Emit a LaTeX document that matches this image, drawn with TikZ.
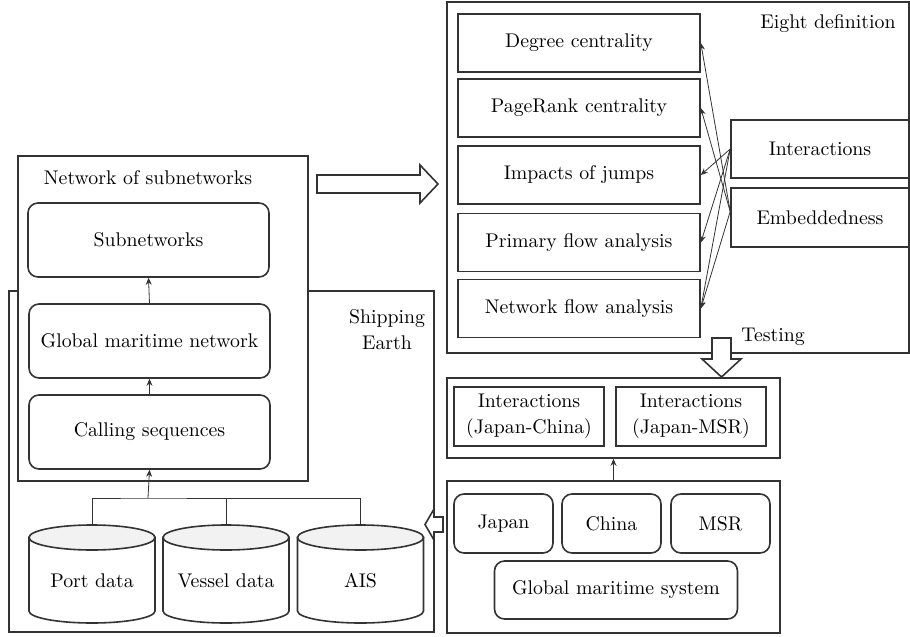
\documentclass[tikz,border=0pt]{standalone}
\usetikzlibrary{arrows.meta, positioning, shapes.geometric}
\tikzset{
    diagram/.style={x=0.5pt, y=-0.5pt, font=\fontsize{9.9}{13}\selectfont},
    frame/.style={draw=black!80, line width=0.8pt, inner sep=0pt},
    block/.style={frame, align=center},
    rblock/.style={block, rounded corners=5pt},
    link/.style={-{Stealth[length=3.5pt, width=3pt]}, line width=0.4pt, draw=black!80},
    % hollow block arrows between the stages
    blockarrow/.style={draw=black!80, line width=0.8pt, fill=white, line join=miter},
}
\begin{document}
\begin{tikzpicture}[diagram]
    \useasboundingbox (0,0) rectangle (910,637);

    % shipping earth with data sources
    \node[frame, minimum width=212.5pt, minimum height=170.5pt] (earth) at (221.5,461.5) {};
    \node[align=center] (earthlbl) at (387,330) {Shipping\\Earth};
    \node[frame, fill=white, minimum width=145pt, minimum height=162.5pt] (netbox) at (163,318.5) {};
    \node (netlbl) at (148,178) {Network of subnetworks};
    \node[rblock, minimum width=120.5pt, minimum height=37pt] (subnet) at (148.5,240) {Subnetworks};
    \node[rblock, minimum width=120.5pt, minimum height=37pt] (gmn) at (149.5,341) {Global maritime network};
    \node[rblock, minimum width=120.5pt, minimum height=37pt] (calling) at (149.5,432) {Calling sequences};

    \foreach \n/\c/\t in {port/92/Port data, vessel/226/Vessel data, ais/360.5/AIS} {
        \draw[draw=black!80, line width=0.8pt, fill=white]
            (\c-63,537.5) -- (\c-63,611) arc[start angle=180, end angle=0, x radius=63, y radius=12]
            -- (\c+63,537.5) -- cycle;
        \draw[draw=black!80, line width=0.8pt, fill=black!5] (\c,537.5) ellipse[x radius=63, y radius=12.5];
        \node[minimum width=63pt, minimum height=49pt, inner sep=0pt] (\n) at (\c,574) {};
        \node at (\c,581) {\t};
    }

    \coordinate (split) at (148,498);
    \draw[line width=0.4pt, draw=black!80] (port.north) |- (split) -| (vessel.north);
    \draw[line width=0.4pt, draw=black!80] (vessel.north |- split) -| (ais.north);
    \draw[link] (split) -- (calling.south);
    \draw[link] (calling.north -| gmn.south) -- (gmn.south);
    \draw[link] (gmn.north) -- (subnet.south);

    % eight definitions
    \node[frame, minimum width=231pt, minimum height=175.5pt] (defbox) at (678,177.5) {};
    \node (deflbl) at (828,24) {Eight definition};
    \node[block, minimum width=121pt, minimum height=29pt] (degree) at (579,43) {Degree centrality};
    \node[block, minimum width=121pt, minimum height=29pt] (pagerank) at (579,108) {PageRank centrality};
    \node[block, minimum width=121pt, minimum height=29pt] (jumps) at (579,175) {Impacts of jumps};
    \node[block, minimum width=121pt, minimum height=29pt] (primary) at (579,242.5) {Primary flow analysis};
    \node[block, minimum width=121pt, minimum height=29pt] (netflow) at (579,308.5) {Network flow analysis};
    \node[block, minimum width=89pt, minimum height=29pt] (inter) at (820,149) {Interactions};
    \node[block, minimum width=89pt, minimum height=29.5pt] (embed) at (820,217.5) {Embeddedness};

    \foreach \t in {jumps, primary, netflow}
        \draw[link] (inter.west) -- (\t.east);
    \foreach \t in {degree, pagerank, netflow}
        \draw[link] ([yshift=3pt]embed.west) -- (\t.east);

    % testing
    \node[block, minimum width=166.5pt, minimum height=40pt] (testbox) at (613.5,418) {};
    \node[block, minimum width=75pt, minimum height=29.5pt] (ijc) at (529,416.5) {Interactions\\(Japan-China)};
    \node[block, minimum width=75pt, minimum height=29.5pt] (ijm) at (691,416.5) {Interactions\\(Japan-MSR)};
    \node (testlbl) at (773,337) {Testing};

    \node[block, minimum width=166.5pt, minimum height=76pt] (sysbox) at (613.5,557) {};
    \node[rblock, minimum width=49.5pt, minimum height=29.5pt] (japan) at (503.5,523.5) {Japan};
    \node[rblock, minimum width=49.5pt, minimum height=29.5pt] (china) at (611.5,523.5) {China};
    \node[rblock, minimum width=49.5pt, minimum height=29.5pt] (msr) at (720.5,523.5) {MSR};
    \node[rblock, minimum width=121.5pt, minimum height=29pt] (gms) at (616,590) {Global maritime system};
    \draw[link] (sysbox.north) -- (testbox.south);

    % block arrows
    \draw[blockarrow] (317,175) -- (420,175) -- (420,165) -- (438,184) -- (420,203) -- (420,193) -- (317,193) -- cycle;
    \draw[blockarrow] (712,338) -- (731,338) -- (731,359) -- (741,359) -- (721.5,377) -- (702,359) -- (712,359) -- cycle;
    \draw[blockarrow] (443,517) -- (434,517) -- (434,509) -- (425,524.5) -- (434,540) -- (434,532) -- (443,532) -- cycle;
\end{tikzpicture}
\end{document}
